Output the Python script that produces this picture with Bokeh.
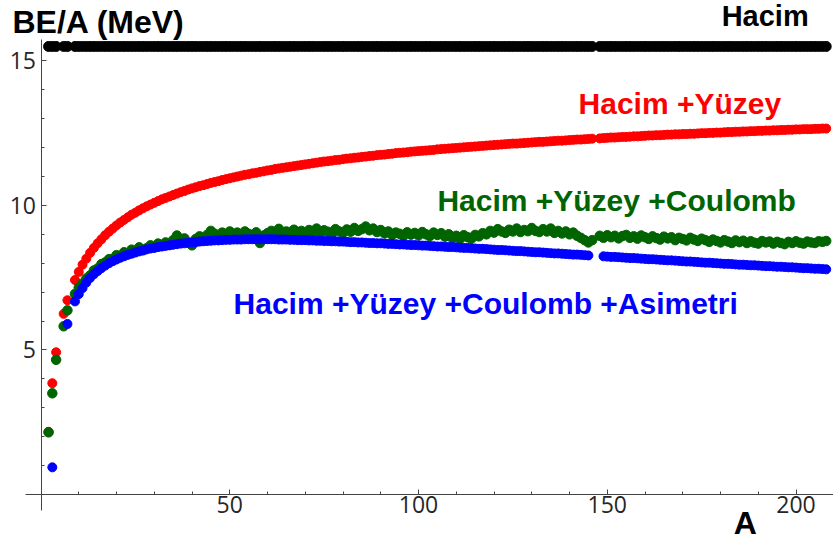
import numpy as np
from bokeh.plotting import figure
from bokeh.models import Range1d, FixedTicker, Label, ColumnDataSource
from bokeh.embed import file_html
from bokeh.resources import INLINE

nan = float("nan")

# Mass number A (no points at 5, 8 and 147)
A = [2, 3, 4, 6, 7] + list(range(9, 147)) + list(range(148, 209))

hacim = [15.5] * len(A)

hacim_yuzey = [2.17, 3.85, 4.92, 6.25, 6.72,
    7.42, 7.70, 7.95, 8.16, 8.36, 8.53, 8.69, 8.83, 8.97, 9.09,
    9.20, 9.31, 9.41, 9.50, 9.59, 9.68, 9.75, 9.83, 9.90, 9.97,
    10.03, 10.09, 10.15, 10.21, 10.26, 10.31, 10.36, 10.41, 10.46, 10.50,
    10.55, 10.59, 10.63, 10.67, 10.70, 10.74, 10.78, 10.81, 10.84, 10.88,
    10.91, 10.94, 10.97, 11.00, 11.03, 11.06, 11.08, 11.11, 11.13, 11.16,
    11.18, 11.21, 11.23, 11.26, 11.28, 11.30, 11.32, 11.34, 11.36, 11.38,
    11.40, 11.42, 11.44, 11.46, 11.48, 11.50, 11.52, 11.53, 11.55, 11.57,
    11.58, 11.60, 11.62, 11.63, 11.65, 11.66, 11.68, 11.69, 11.71, 11.72,
    11.74, 11.75, 11.76, 11.78, 11.79, 11.81, 11.82, 11.83, 11.84, 11.86,
    11.87, 11.88, 11.89, 11.90, 11.91, 11.92, 11.94, 11.95, 11.96, 11.97,
    11.98, 11.99, 12.00, 12.01, 12.02, 12.03, 12.04, 12.05, 12.06, 12.07,
    12.08, 12.09, 12.10, 12.11, 12.12, 12.13, 12.14, 12.14, 12.15, 12.16,
    12.17, 12.18, 12.19, 12.20, 12.20, 12.21, 12.22, 12.23, 12.24, 12.24,
    12.25, 12.26, 12.27, 12.28, 12.28, 12.29, 12.30, 12.31,
    12.32, 12.33, 12.34, 12.35, 12.35, 12.36, 12.37, 12.37, 12.38, 12.39,
    12.39, 12.40, 12.41, 12.42, 12.42, 12.43, 12.43, 12.44, 12.45, 12.45,
    12.46, 12.46, 12.47, 12.47, 12.48, 12.48, 12.49, 12.50, 12.50, 12.51,
    12.51, 12.52, 12.52, 12.53, 12.54, 12.54, 12.55, 12.55, 12.56, 12.56,
    12.57, 12.57, 12.58, 12.58, 12.59, 12.59, 12.60, 12.60, 12.61, 12.61,
    12.62, 12.62, 12.63, 12.63, 12.64, 12.64, 12.64, 12.65, 12.65, 12.66, 12.66]

hacim_yuzey_coulomb = [2.15, 3.50, 4.66, 5.82, 6.37,
    6.94, 7.16, 7.30, 7.47, 7.58, 7.75, 7.82, 7.97, 8.03, 8.14,
    8.15, 8.28, 8.25, 8.38, 8.33, 8.47, 8.42, 8.55, 8.46, 8.52,
    8.62, 8.56, 8.68, 8.60, 8.72, 8.64, 8.80, 8.96, 8.74, 8.86,
    8.72, 8.62, 8.84, 8.93, 8.82, 8.98, 9.12, 9.02, 8.92, 9.06,
    8.95, 9.10, 8.98, 9.06, 8.93, 9.10, 9.02, 8.94, 9.07, 8.70,
    8.96, 9.04, 9.12, 8.98, 9.19, 9.02, 9.10, 9.04, 9.16, 9.06,
    9.12, 9.02, 9.15, 9.08, 9.20, 9.05, 9.14, 9.09, 9.02, 9.18,
    9.10, 9.05, 9.17, 9.09, 9.22, 9.12, 9.18, 9.27, 9.14, 9.20,
    9.08, 9.15, 9.03, 9.10, 8.98, 9.06, 9.02, 8.95, 9.07, 8.99,
    9.05, 8.96, 9.08, 9.00, 8.94, 9.06, 8.98, 9.04, 8.92, 9.00,
    8.86, 8.95, 8.84, 8.97, 8.90, 8.85, 8.98, 8.93, 9.04, 9.00,
    9.12, 9.06, 9.18, 9.10, 9.05, 9.16, 9.10, 9.20, 9.08, 9.15,
    9.11, 9.22, 9.12, 9.08, 9.18, 9.10, 9.20, 9.05, 9.12, 9.03,
    9.10, 9.00, 9.06, 8.95, 8.88, 8.80, 8.72, 8.80,
    8.95, 8.88, 8.97, 8.90, 8.95, 8.86, 8.94, 8.98, 8.88, 8.93,
    8.85, 8.96, 8.90, 8.84, 8.93, 8.87, 8.82, 8.92, 8.86, 8.90,
    8.80, 8.88, 8.84, 8.79, 8.88, 8.82, 8.77, 8.85, 8.80, 8.74,
    8.82, 8.77, 8.72, 8.80, 8.75, 8.70, 8.79, 8.73, 8.78, 8.70,
    8.76, 8.71, 8.68, 8.77, 8.72, 8.75, 8.68, 8.74, 8.70, 8.66,
    8.74, 8.70, 8.76, 8.71, 8.68, 8.75, 8.72, 8.70, 8.76, 8.74, 8.77]

hacim_yuzey_coulomb_asimetri = [nan, 0.94, nan, nan, 5.90,
    6.68, 6.93, 7.14, 7.33, 7.49, 7.62, 7.73, 7.83, 7.92, 8.00,
    8.07, 8.13, 8.19, 8.24, 8.29, 8.33, 8.37, 8.41, 8.44, 8.48,
    8.51, 8.53, 8.56, 8.58, 8.60, 8.62, 8.64, 8.66, 8.68, 8.69,
    8.71, 8.72, 8.73, 8.75, 8.76, 8.77, 8.78, 8.79, 8.79, 8.80,
    8.81, 8.81, 8.82, 8.82, 8.82, 8.83, 8.83, 8.83, 8.83, 8.83,
    8.83, 8.83, 8.83, 8.83, 8.82, 8.82, 8.82, 8.81, 8.81, 8.80,
    8.80, 8.80, 8.79, 8.79, 8.78, 8.78, 8.77, 8.77, 8.76, 8.76,
    8.75, 8.75, 8.74, 8.73, 8.73, 8.72, 8.72, 8.71, 8.70, 8.70,
    8.69, 8.69, 8.68, 8.67, 8.67, 8.66, 8.65, 8.65, 8.64, 8.63,
    8.63, 8.62, 8.61, 8.61, 8.60, 8.59, 8.58, 8.58, 8.57, 8.56,
    8.56, 8.55, 8.54, 8.53, 8.53, 8.52, 8.51, 8.50, 8.50, 8.49,
    8.48, 8.47, 8.46, 8.46, 8.45, 8.44, 8.43, 8.42, 8.42, 8.41,
    8.40, 8.39, 8.38, 8.38, 8.37, 8.36, 8.35, 8.34, 8.34, 8.33,
    8.32, 8.31, 8.30, 8.30, 8.29, 8.28, 8.27, nan,
    nan, 8.24, 8.23, 8.22, 8.22, 8.21, 8.20, 8.19, 8.18, 8.18,
    8.17, 8.16, 8.15, 8.14, 8.14, 8.13, 8.12, 8.11, 8.10, 8.10,
    8.09, 8.08, 8.07, 8.06, 8.06, 8.05, 8.04, 8.03, 8.02, 8.02,
    8.01, 8.00, 7.99, 7.98, 7.98, 7.97, 7.96, 7.95, 7.95, 7.94,
    7.93, 7.93, 7.92, 7.91, 7.90, 7.90, 7.89, 7.88, 7.88, 7.87,
    7.86, 7.86, 7.85, 7.84, 7.83, 7.83, 7.82, 7.81, 7.81, 7.80, 7.79]

x_major = [50, 100, 150, 200]
x_minor = [10, 20, 30, 40, 60, 70, 80, 90, 110, 120, 130, 140, 160, 170, 180, 190, 210]
y_major = [5, 10, 15]
y_minor = [1, 2, 3, 4, 6, 7, 8, 9, 11, 12, 13, 14]

src = ColumnDataSource(dict(
    A=np.array(A, dtype=float),
    hacim=np.array(hacim, dtype=float),
    hy=np.array(hacim_yuzey, dtype=float),
    hyc=np.array(hacim_yuzey_coulomb, dtype=float),
    hyca=np.array(hacim_yuzey_coulomb_asimetri, dtype=float),
))

p = figure(width=833, height=541, output_backend="svg", toolbar_location=None,
           x_range=Range1d(-10.73, 209.93), y_range=Range1d(-1.626, 17.09),
           min_border=0, outline_line_color=None, background_fill_color="white")
p.grid.visible = False

p.scatter("A", "hacim", source=src, size=10, color="black")
p.scatter("A", "hy", source=src, size=9, color="#FF0000")
p.scatter("A", "hyc", source=src, size=9.5, color="#006400")
p.scatter("A", "hyca", source=src, size=9, color="#0000FF")

for ax in (p.xaxis[0], p.yaxis[0]):
    ax.fixed_location = 0
    ax.axis_line_color = "#444444"
    ax.major_tick_line_color = "#444444"
    ax.minor_tick_line_color = "#444444"
    ax.major_tick_in = 5
    ax.major_tick_out = 0
    ax.minor_tick_in = 3
    ax.minor_tick_out = 0
    ax.major_label_text_font = "Open Sans"
    ax.major_label_text_font_size = "23px"
    ax.major_label_text_color = "#262626"

p.xaxis[0].ticker = FixedTicker(ticks=x_major, minor_ticks=x_minor)
p.yaxis[0].ticker = FixedTicker(ticks=y_major, minor_ticks=y_minor)
p.xaxis[0].bounds = (-4, 212)
p.yaxis[0].bounds = (-0.55, 15.75)
p.xaxis[0].major_label_standoff = 2
p.yaxis[0].major_label_standoff = 5

def lab(x, y, text, color, size="30px", align="left"):
    p.add_layout(Label(x=x, y=y, text=text, text_color=color, text_font="Liberation Sans",
                       text_font_style="bold", text_font_size=size, text_align=align,
                       text_baseline="alphabetic"))

lab(-7.55, 16.33, "BE/A (MeV)", "black", size="32px")
lab(186.6, -1.0, "A", "black", size="32px", align="center")
lab(180.3, 16.57, "Hacim", "black", size="29px")
lab(142.4, 13.53, "Hacim +Yüzey", "#FF0000")
lab(105.0, 10.17, "Hacim +Yüzey +Coulomb", "#006400")
lab(51.0, 6.61, "Hacim +Yüzey +Coulomb +Asimetri", "#0000FF")

open("out.html", "w").write(file_html(p, INLINE))
